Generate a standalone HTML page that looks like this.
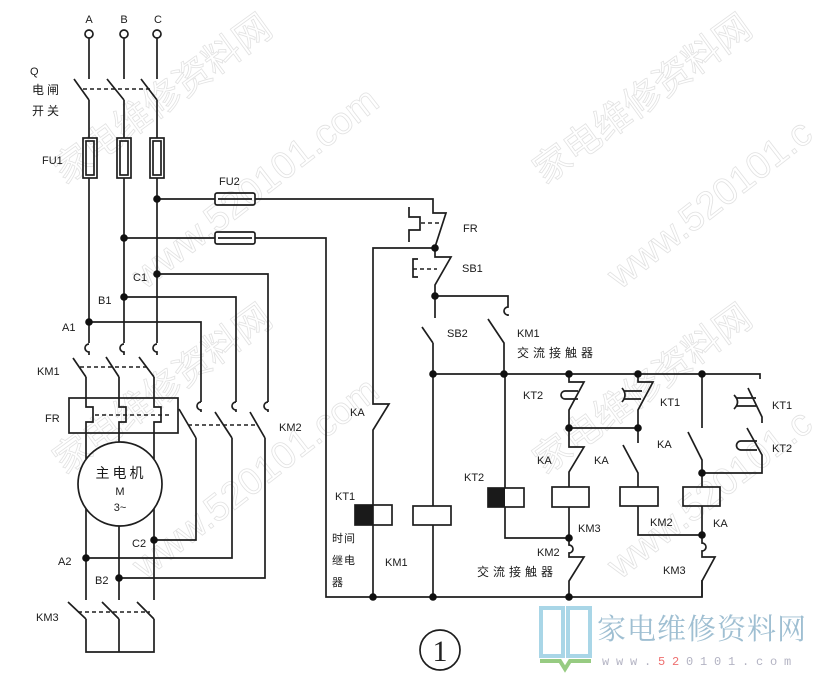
<!DOCTYPE html>
<html>
<head>
<meta charset="utf-8">
<style>
  html,body{margin:0;padding:0;background:#fff;width:816px;height:685px;overflow:hidden;}
  svg{display:block;}
  .l{stroke:#1e1e1e;stroke-width:1.7;fill:none;stroke-linejoin:miter;}
  .d{stroke:#1e1e1e;stroke-width:1.5;fill:none;stroke-dasharray:4 3;}
  .t{font-family:"Liberation Sans","Noto Sans CJK SC",sans-serif;font-size:11px;fill:#1a1a1a;}
  .c{font-family:"Liberation Sans","Noto Sans CJK SC",sans-serif;fill:#1a1a1a;}
  .wm{font-family:"Liberation Sans","Noto Sans CJK SC",sans-serif;fill:none;stroke:#e2e2e2;stroke-width:0.8;}
</style>
</head>
<body>
<svg width="816" height="685" viewBox="0 0 816 685" xmlns="http://www.w3.org/2000/svg">
<rect width="816" height="685" fill="#fff"/>

<!-- watermarks -->
<g>
  <text class="wm" x="65" y="185" font-size="37" transform="rotate(-36 65 185)">家电维修资料网</text>
  <text class="wm" x="545" y="185" font-size="37" transform="rotate(-36 545 185)">家电维修资料网</text>
  <text class="wm" x="65" y="475" font-size="37" transform="rotate(-36 65 475)">家电维修资料网</text>
  <text class="wm" x="545" y="475" font-size="37" transform="rotate(-36 545 475)">家电维修资料网</text>
  <text class="wm" x="145" y="290" font-size="38" transform="rotate(-38 145 290)">www.520101.com</text>
  <text class="wm" x="620" y="290" font-size="38" transform="rotate(-38 620 290)">www.520101.c</text>
  <text class="wm" x="145" y="580" font-size="38" transform="rotate(-38 145 580)">www.520101.com</text>
  <text class="wm" x="620" y="580" font-size="38" transform="rotate(-38 620 580)">www.520101.c</text>
</g>

<!-- ===== main circuit ===== -->
<circle cx="89" cy="34" r="4" class="l" stroke-width="2"/>
<circle cx="124" cy="34" r="4" class="l" stroke-width="2"/>
<circle cx="157" cy="34" r="4" class="l" stroke-width="2"/>
<text class="t" x="89" y="23" text-anchor="middle">A</text>
<text class="t" x="124" y="23" text-anchor="middle">B</text>
<text class="t" x="158" y="23" text-anchor="middle">C</text>

<!-- Q switch -->
<path class="l" d="M89,38 V79 M74,79 L89,100 M89,100 V138 M89,178 V343"/>
<path class="l" d="M124,38 V79 M107,79 L124,100 M124,100 V138 M124,178 V343"/>
<path class="l" d="M157,38 V79 M141,79 L157,100 M157,100 V138 M157,178 V343"/>
<path class="d" d="M83,89 H150"/>
<text class="t" x="30" y="75">Q</text>
<text class="c" x="32" y="94" font-size="12" letter-spacing="3">电闸</text>
<text class="c" x="32" y="115" font-size="12" letter-spacing="3">开关</text>

<!-- FU1 -->
<rect class="l" x="83" y="138" width="14" height="40"/>
<rect class="l" x="86" y="141" width="8" height="34" stroke-width="1"/>
<rect class="l" x="117" y="138" width="14" height="40"/>
<rect class="l" x="120" y="141" width="8" height="34" stroke-width="1"/>
<rect class="l" x="150" y="138" width="14" height="40"/>
<rect class="l" x="153" y="141" width="8" height="34" stroke-width="1"/>
<text class="t" x="42" y="164">FU1</text>

<!-- FU2 -->
<path class="l" d="M157,199 H215 M255,199 H433 V213 H446 L435,247"/>
<rect class="l" x="215" y="193" width="40" height="12" rx="2"/>
<path class="l" d="M218,199 H252" stroke-width="1"/>
<path class="l" d="M124,238 H215 M255,238 H326 V597 H702 V580"/>
<rect class="l" x="215" y="232" width="40" height="12" rx="2"/>
<path class="l" d="M218,238 H252" stroke-width="1"/>
<text class="t" x="219" y="185">FU2</text>

<!-- taps -->
<path class="l" d="M157,274 H268 V402"/>
<path class="l" d="M124,297 H236 V402"/>
<path class="l" d="M89,322 H201 V402"/>
<text class="t" x="133" y="281">C1</text>
<text class="t" x="98" y="304">B1</text>
<text class="t" x="62" y="331">A1</text>

<!-- KM1 main contacts -->
<path class="l" d="M89,344 A4,4 0 1,0 89,352 V355"/>
<path class="l" d="M124,344 A4,4 0 1,0 124,352 V355"/>
<path class="l" d="M157,344 A4,4 0 1,0 157,352 V355"/>
<path class="l" d="M73,358 L86,377 M106,357 L119,377 M139,357 L154,377"/>
<path class="d" d="M80,367 H148"/>
<text class="t" x="37" y="375">KM1</text>

<!-- FR thermal -->
<rect class="l" x="69" y="398" width="109" height="35"/>
<path class="l" d="M86,377 V407 H93 V422 H86 V459 M86,509 V600"/>
<path class="l" d="M119,377 V407 H126 V422 H119 V442 M119,526 V600"/>
<path class="l" d="M154,377 V407 H161 V422 H154 V459 M154,509 V600"/>
<path class="d" d="M95,415 H172"/>
<text class="t" x="45" y="422">FR</text>

<!-- KM2 main contacts -->
<path class="l" d="M201,402 A4,4 0 1,0 201,410 V412"/>
<path class="l" d="M236,402 A4,4 0 1,0 236,410 V412"/>
<path class="l" d="M268,402 A4,4 0 1,0 268,410 V412"/>
<path class="l" d="M179,409 L196,438 M196,438 V540 H154"/>
<path class="l" d="M215,412 L232,438 M232,438 V558 H86"/>
<path class="l" d="M250,412 L265,438 M265,438 V578 H119"/>
<path class="d" d="M188,425 H258"/>
<text class="t" x="279" y="431">KM2</text>

<!-- motor -->
<circle class="l" cx="120" cy="484" r="42"/>
<text class="c" x="121" y="478" font-size="14" text-anchor="middle" letter-spacing="3">主电机</text>
<text class="t" x="120" y="495" text-anchor="middle">M</text>
<text class="t" x="120" y="511" text-anchor="middle">3~</text>
<text class="t" x="132" y="547">C2</text>
<text class="t" x="58" y="565">A2</text>
<text class="t" x="95" y="584">B2</text>

<!-- KM3 star -->
<path class="l" d="M68,602 L86,619 M102,602 L119,619 M137,602 L154,619"/>
<path class="l" d="M86,619 V652 H154 V619 M119,619 V652"/>
<path class="d" d="M78,612 H150"/>
<text class="t" x="36" y="621">KM3</text>

<!-- ===== control circuit ===== -->
<path class="l" d="M409,207 V217 H420 V230 H409 V242" stroke-width="1.4"/>
<path class="d" d="M421,223 H441"/>
<text class="t" x="463" y="232">FR</text>

<!-- SB1 -->
<path class="l" d="M435,247 V257 H451 L435,285 V296"/>
<path class="l" d="M418,259 H413 V277 H418" stroke-width="1.4"/>
<path class="d" d="M413,269 H437"/>
<text class="t" x="462" y="272">SB1</text>

<!-- SB2 & KM1 aux -->
<path class="l" d="M435,296 V318 M422,327 L433,343 M433,343 V506 M433,525 V597"/>
<path class="l" d="M435,296 H508 V307 A4,4 0 1,0 508,315 V316 M488,319 L504,343 V374"/>
<text class="t" x="447" y="337">SB2</text>
<text class="t" x="517" y="337">KM1</text>
<text class="c" x="517" y="357" font-size="12" letter-spacing="4">交流接触器</text>

<!-- top bus -->
<path class="l" d="M433,374 H760 V379"/>

<!-- KA NC & KT1 coil -->
<path class="l" d="M435,248 H373 V404 H389 L373,430 V597"/>
<text class="t" x="350" y="416">KA</text>
<rect class="l" x="355" y="505" width="37" height="20" fill="#fff"/>
<rect x="355" y="505" width="18" height="20" fill="#1a1a1a"/>
<text class="t" x="335" y="500">KT1</text>
<text class="c" x="332" y="542" font-size="11" letter-spacing="1">时间</text>
<text class="c" x="332" y="564" font-size="11" letter-spacing="1">继电</text>
<text class="c" x="332" y="586" font-size="11">器</text>

<!-- KM1 coil -->
<rect class="l" x="413" y="506" width="38" height="19" fill="#fff"/>
<text class="t" x="385" y="566">KM1</text>

<!-- KT2 coil -->
<path class="l" d="M505,374 V488 M505,507 V538 H569"/>
<rect class="l" x="488" y="488" width="36" height="19" fill="#fff"/>
<rect x="488" y="488" width="17" height="19" fill="#1a1a1a"/>
<text class="t" x="464" y="481">KT2</text>

<!-- column 569 -->
<path class="l" d="M569,374 V382 H584 L569,410 V447 H584 L569,472 V487"/>
<path class="l" d="M578,391 H565 A4,4 0 0,0 565,399 H578" stroke-width="1.4"/>
<text class="t" x="523" y="399">KT2</text>
<path class="l" d="M569,428 H638"/>
<rect class="l" x="552" y="487" width="37" height="20"/>
<path class="l" d="M569,507 V545 A4,4 0 1,1 569,553 V557 H584 L569,581 V597"/>
<text class="t" x="537" y="464">KA</text>
<text class="t" x="594" y="464">KA</text>
<text class="t" x="578" y="532">KM3</text>
<text class="t" x="537" y="556">KM2</text>
<text class="c" x="477" y="576" font-size="12" letter-spacing="4">交流接触器</text>

<!-- column 638 -->
<path class="l" d="M638,374 V382 H653 L638,410 V443 M623,445 L638,473 V487"/>
<path class="l" d="M624,391 H642 M624,399 H641 M622,388 Q628,395 622,402" stroke-width="1.4"/>
<text class="t" x="660" y="406">KT1</text>
<text class="t" x="657" y="448">KA</text>
<rect class="l" x="620" y="487" width="38" height="19"/>
<path class="l" d="M638,506 V535 H702"/>
<text class="t" x="650" y="526">KM2</text>

<!-- column 702 -->
<path class="l" d="M702,374 V428 M688,432 L702,460 V487"/>
<rect class="l" x="683" y="487" width="37" height="19"/>
<path class="l" d="M702,506 V543 A4,4 0 1,1 702,551 V557 H715 L702,581 V597"/>
<text class="t" x="713" y="527">KA</text>
<text class="t" x="663" y="574">KM3</text>

<!-- right column KT1 / KT2 -->
<path class="l" d="M762,423 V417 L748,388"/>
<path class="l" d="M736,398 H756 M736,406 H756 M734,395 Q741,402 734,409" stroke-width="1.4"/>
<path class="l" d="M702,473 H762 V455 L747,428"/>
<path class="l" d="M757,441 H741 A4.5,4.5 0 0,0 741,450 H757" stroke-width="1.4"/>
<text class="t" x="772" y="409">KT1</text>
<text class="t" x="772" y="452">KT2</text>

<!-- dots -->
<g fill="#111">
  <circle cx="157" cy="199" r="3.8"/>
  <circle cx="124" cy="238" r="3.8"/>
  <circle cx="157" cy="274" r="3.8"/>
  <circle cx="124" cy="297" r="3.8"/>
  <circle cx="89" cy="322" r="3.8"/>
  <circle cx="154" cy="540" r="3.8"/>
  <circle cx="86" cy="558" r="3.8"/>
  <circle cx="119" cy="578" r="3.8"/>
  <circle cx="435" cy="248" r="3.8"/>
  <circle cx="435" cy="296" r="3.8"/>
  <circle cx="433" cy="374" r="3.8"/>
  <circle cx="504" cy="374" r="3.8"/>
  <circle cx="569" cy="374" r="3.8"/>
  <circle cx="638" cy="374" r="3.8"/>
  <circle cx="702" cy="374" r="3.8"/>
  <circle cx="569" cy="428" r="3.8"/>
  <circle cx="638" cy="428" r="3.8"/>
  <circle cx="702" cy="473" r="3.8"/>
  <circle cx="569" cy="538" r="3.8"/>
  <circle cx="702" cy="535" r="3.8"/>
  <circle cx="373" cy="597" r="3.8"/>
  <circle cx="433" cy="597" r="3.8"/>
  <circle cx="569" cy="597" r="3.8"/>
</g>

<!-- figure number -->
<circle cx="440" cy="650" r="20" class="l" stroke-width="1.5"/>
<text x="440" y="661" text-anchor="middle" font-family="'Liberation Serif',serif" font-size="30" fill="#222">1</text>

<!-- logo -->
<rect x="541" y="608" width="22" height="48" fill="none" stroke="#a9d6e7" stroke-width="4"/>
<rect x="568" y="608" width="22" height="48" fill="none" stroke="#a9d6e7" stroke-width="4"/>
<polyline points="540,661 560,661 565,669 570,661 591,661" fill="none" stroke="#97cb82" stroke-width="4"/>
<text x="597" y="639" font-family="'Noto Serif CJK SC','Noto Sans CJK SC',serif" font-size="29" fill="#9fbfd2" letter-spacing="1">家电维修资料网</text>
<text x="602" y="665" font-family="'Liberation Mono',monospace" font-size="12" fill="#b3b3c3" letter-spacing="6.8">www.<tspan fill="#ee7070">52</tspan>0101.com</text>
</svg>
</body>
</html>
